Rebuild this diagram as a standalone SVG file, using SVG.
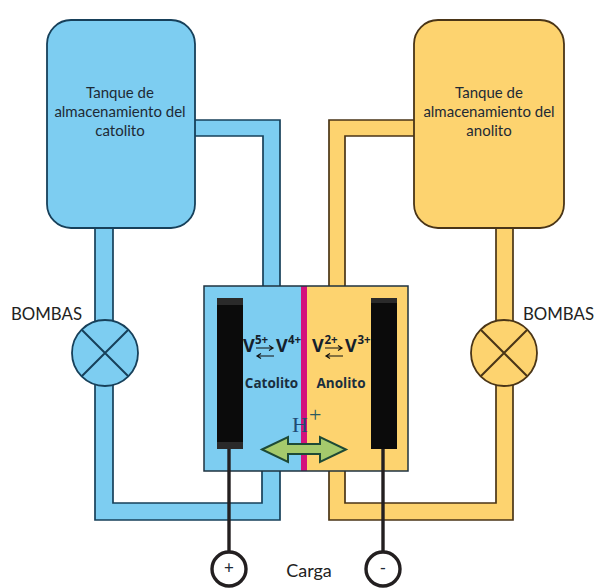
<svg xmlns="http://www.w3.org/2000/svg" width="594" height="588" viewBox="0 0 594 588">
<style>
.b{fill:#7dcdf1}
.y{fill:#fdd36f}
.bs{stroke:#17405a}
.ys{stroke:#4a3517}
text{font-family:Lato,"Open Sans","Liberation Sans",sans-serif;fill:#1d2a35}
.t{font-size:15px;text-anchor:middle}
.l{font-size:16.800px;fill:#222}
.cg{font-size:18px;fill:#222;text-anchor:middle}
.v{font-size:18px;font-weight:700;fill:#14202c;font-family:"Open Sans",sans-serif}
.s{font-size:11.500px;font-weight:700;fill:#14202c;font-family:"Open Sans",sans-serif}
.c{font-size:13.500px;font-weight:700;text-anchor:middle;fill:#1a2e3e;font-family:"Open Sans",sans-serif}
.eq{fill:none;stroke:#111;stroke-width:1.2}
.w{fill:none;stroke:#231f20;stroke-width:3.4}
.k{fill:#fff;stroke:#231f20;stroke-width:3.4}
.x{fill:none;stroke-width:2}
.h{font-family:"Liberation Serif",serif}
</style>
<g id="connectors">
<path class="b bs" stroke-width="1.7" d="M190 120H280V290H263V136H190Z"/>
<path class="y ys" stroke-width="1.7" d="M420 120H329V290H345V136H420Z"/>
<path class="b bs" stroke-width="1.7" d="M95 222H113V326H95Z"/>
<path class="y ys" stroke-width="1.7" d="M496 222H513V326H496Z"/>
<path class="b bs" stroke-width="1.7" d="M95 380V520H280V465H262V503H113V380Z"/>
<path class="y ys" stroke-width="1.7" d="M513 380V520H329V465H345V503H496V380Z"/>
</g>
<g id="tank-catolito">
<rect class="b bs" stroke-width="1.8" x="47" y="20" width="148" height="208" rx="24"/>
<text class="t" x="120" y="98">Tanque de</text>
<text class="t" x="120" y="117">almacenamiento del</text>
<text class="t" x="120" y="136">catolito</text>
</g>
<g id="tank-anolito">
<rect class="y ys" stroke-width="1.8" x="414" y="20" width="150" height="208" rx="24"/>
<text class="t" x="489" y="98">Tanque de</text>
<text class="t" x="489" y="117">almacenamiento del</text>
<text class="t" x="489" y="136">anolito</text>
</g>
<g id="pump-left">
<circle class="b bs" stroke-width="1.8" cx="105" cy="353" r="33"/>
<path class="x bs" d="M82 330L128 376M128 330L82 376"/>
<text class="l" x="11" y="320">BOMBAS</text>
</g>
<g id="pump-right">
<circle class="y ys" stroke-width="1.8" cx="504" cy="353" r="33"/>
<path class="x ys" d="M481 330L527 376M527 330L481 376"/>
<text class="l" x="523" y="320">BOMBAS</text>
</g>
<g id="cell">
<rect x="204" y="286" width="98" height="185" class="b"/>
<rect x="306" y="286" width="102" height="185" class="y"/>
<rect x="301" y="286" width="6" height="185" fill="#d4127c"/>
<rect x="204" y="286" width="204" height="185" fill="none" stroke="#1f3340" stroke-width="1.5"/>
</g>
<g id="electrode-left">
<path class="w" d="M229 449V553"/>
<rect x="217" y="298" width="26" height="151" fill="#0b0b0b"/>
<rect x="217" y="298" width="26" height="7" fill="#2a2a2a"/>
<rect x="217" y="442" width="26" height="7" fill="#2a2a2a"/>
<circle class="k" cx="229" cy="569" r="17"/>
<text x="229" y="574" font-size="17" text-anchor="middle" fill="#444">+</text>
</g>
<g id="electrode-right">
<path class="w" d="M383 449V553"/>
<rect x="371" y="298" width="26" height="151" fill="#0b0b0b"/>
<rect x="371" y="298" width="26" height="5" fill="#2a2a2a"/>
<circle class="k" cx="383" cy="569" r="17"/>
<text x="383" y="574" font-size="17" text-anchor="middle" fill="#444">-</text>
</g>
<g id="label-catolito">
<text class="v" x="243" y="352">V</text><text class="s" x="255" y="344">5+</text>
<path class="eq" d="M256 348H273M269 345.500L273 348L269 350.500M274 356H257M261 353.500L257 356L261 358.500"/>
<text class="v" x="276" y="352">V</text><text class="s" x="288" y="344">4+</text>
<text class="c" x="271.500" y="388">Catolito</text>
</g>
<g id="label-anolito">
<text class="v" x="312" y="352">V</text><text class="s" x="324.500" y="344">2+</text>
<path class="eq" d="M325 348H342M338 345.500L342 348L338 350.500M343 356H326M330 353.500L326 356L330 358.500"/>
<text class="v" x="345" y="352">V</text><text class="s" x="357.500" y="344">3+</text>
<text class="c" x="341" y="388">Anolito</text>
</g>
<g id="proton">
<path d="M262 449.500L288 437V444H320V437L346 449.500L320 462V454H288V462Z" fill="#a5ca6c" stroke="#1e4a36" stroke-width="2"/>
<text class="h" x="292" y="432" font-size="22" style="fill:#1f4a74">H</text>
<text class="h" x="309" y="422" font-size="22" style="fill:#2b5a60">+</text>
</g>
<g id="load"><text class="cg" x="309" y="577">Carga</text></g>
</svg>
